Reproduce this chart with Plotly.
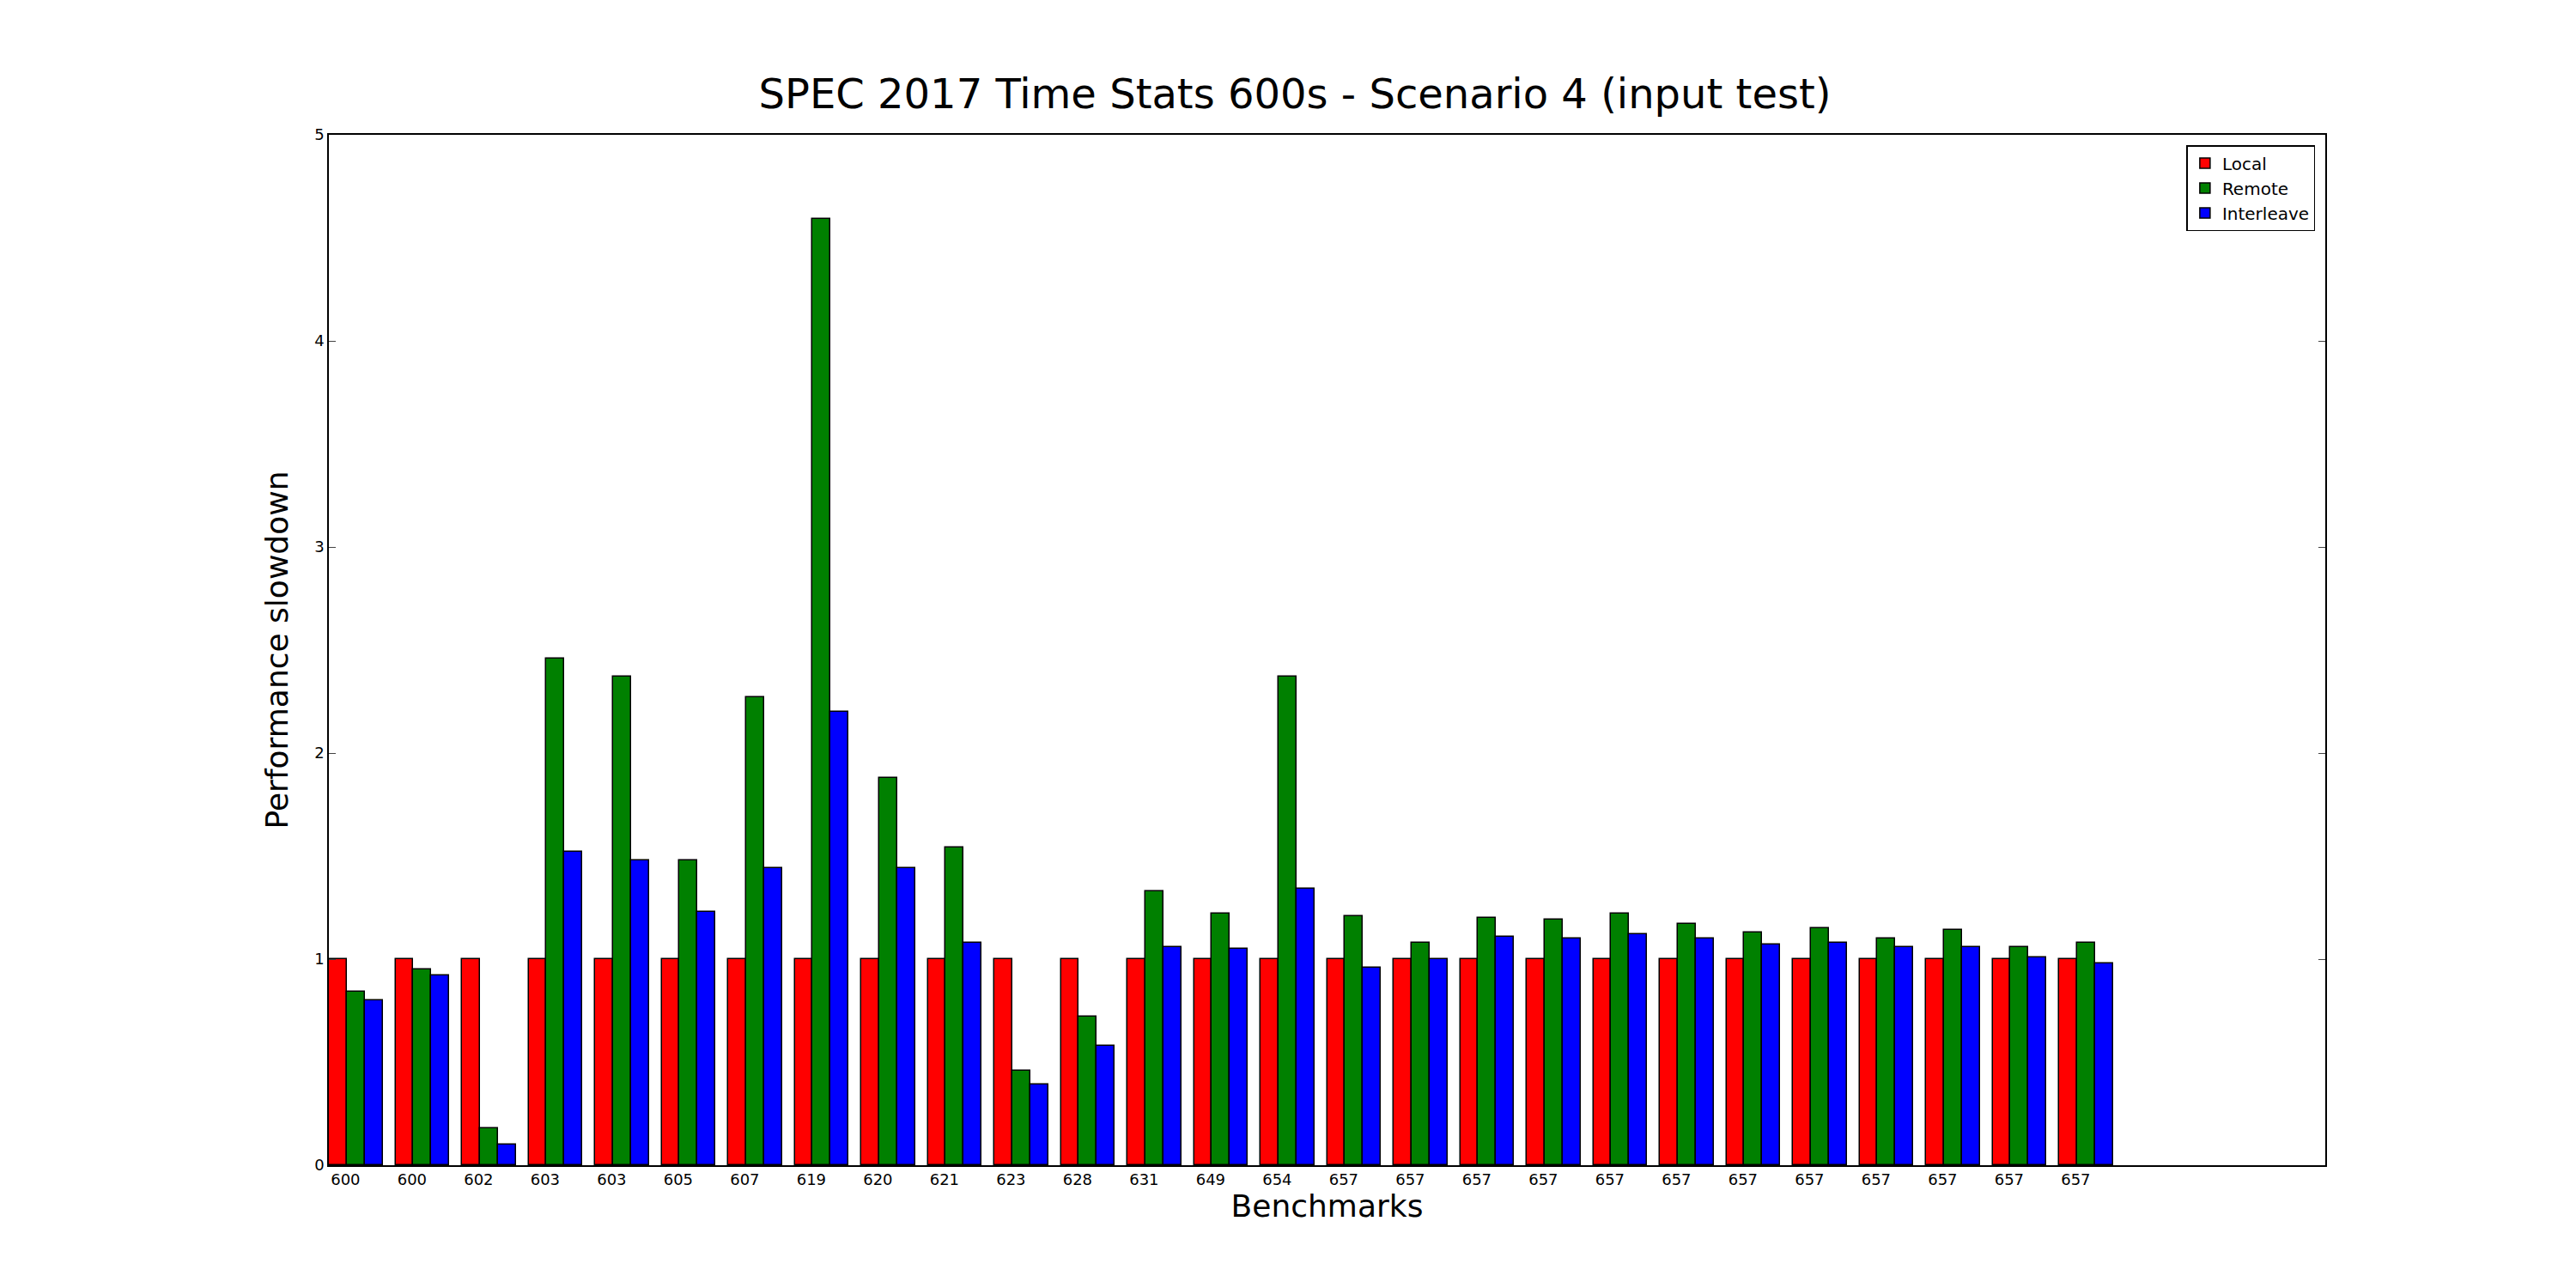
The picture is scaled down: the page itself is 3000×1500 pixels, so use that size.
import plotly.graph_objects as go

labels = ["600","600","602","603","603","605","607","619","620","621","623","628","631","649","654"] + ["657"]*12
local = [1.0]*27
remote = [0.84,0.95,0.18,2.46,2.37,1.48,2.27,4.59,1.88,1.54,0.46,0.72,1.33,1.22,2.37,
          1.21,1.08,1.20,1.19,1.22,1.17,1.13,1.15,1.10,1.14,1.06,1.08]
interleave = [0.80,0.92,0.10,1.52,1.48,1.23,1.44,2.20,1.44,1.08,0.39,0.58,1.06,1.05,1.34,
              0.96,1.00,1.11,1.10,1.12,1.10,1.07,1.08,1.06,1.06,1.01,0.98]

w = 0.27
idx = list(range(len(labels)))
fig = go.Figure()
for k, (name, vals, col) in enumerate([("Local", local, "#ff0000"), ("Remote", remote, "#008000"), ("Interleave", interleave, "#0000ff")]):
    fig.add_trace(go.Bar(x=[i + w*k + w/2 for i in idx], y=vals, width=w, name=name,
                         marker=dict(color=col, line=dict(color="black", width=1.5))))

fig.update_layout(
    width=3000, height=1500, plot_bgcolor="white", paper_bgcolor="white",
    margin=dict(l=375, r=300, t=149, b=151),
    title=dict(text="SPEC 2017 Time Stats 600s - Scenario 4 (input test)", x=0.5, xanchor="center",
               y=1-118/1500, yanchor="bottom", font=dict(family="DejaVu Sans", size=48, color="black")),
    font=dict(family="DejaVu Sans", color="black"),
    barmode="overlay", bargap=0,
    legend=dict(x=0.995, y=0.99, xanchor="right", yanchor="top", bordercolor="black", borderwidth=1.5,
                font=dict(size=20), bgcolor="white"),
    xaxis=dict(range=[0, 30], tickvals=[i + 0.25 for i in idx], ticktext=labels, showgrid=False,
               showline=True, mirror=True, linecolor="black", linewidth=1.5, ticks="", tickfont=dict(size=18),
               title=dict(text="Benchmarks", font=dict(size=36), standoff=8), zeroline=False),
    yaxis=dict(range=[0, 5], tickvals=[0,1,2,3,4,5], showgrid=False, showline=True, mirror="ticks",
               linecolor="black", linewidth=1.5, ticks="inside", ticklen=8, tickfont=dict(size=18),
               title=dict(text="Performance slowdown", font=dict(size=36), standoff=20), zeroline=False),
)
fig.write_html("out.html")
